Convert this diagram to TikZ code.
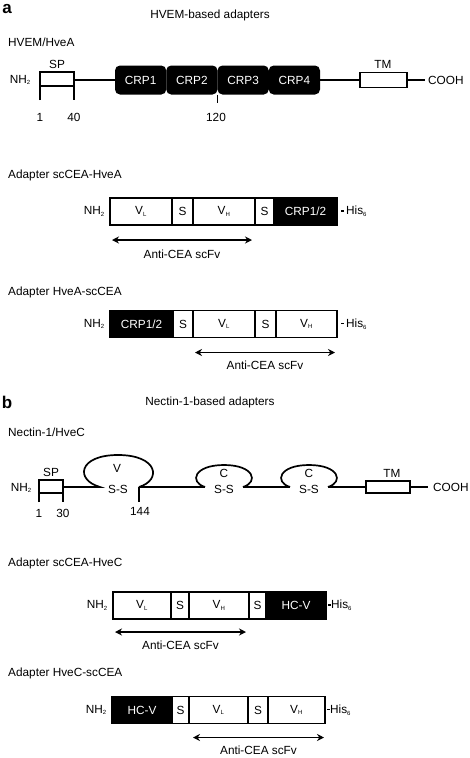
\documentclass[tikz,border=0pt]{standalone}
\usepackage{fontspec}
\setmainfont{Liberation Sans}
\usepackage{xcolor}
\usepackage{tikz}
\usetikzlibrary{arrows,arrows.meta,shapes,positioning}

\newcommand{\lowidx}[1]{\textsubscript{\fontsize{6}{6}\selectfont #1}}
\newcommand{\hisdash}{\rule[3pt]{3pt}{1.8pt}}

\begin{document}
\begin{tikzpicture}[x=1pt,y=-1pt,
      txt/.style={inner sep=0pt,font=\fontsize{11.8}{13}\selectfont},
      panel/.style={inner sep=0pt,font=\fontsize{17}{17}\selectfont\bfseries},
      seg/.style={draw,line width=1.7pt,inner sep=0pt,outer sep=0pt,
                  minimum height=27pt,anchor=west,font=\fontsize{11.8}{13}\selectfont},
      dom/.style={seg,fill=black,text=white},
      crp/.style={fill=black,text=white,rounded corners=5pt,inner sep=0pt,outer sep=0pt,
                  minimum width=51.25pt,minimum height=29pt,anchor=west,
                  font=\fontsize{11.8}{13}\selectfont},
      tmbox/.style={draw,line width=1.7pt,inner sep=0pt,outer sep=0pt,anchor=west},
      chain/.style={line width=1.7pt},
      scfv/.style={{Stealth[length=7pt,width=7pt]}-{Stealth[length=7pt,width=7pt]},line width=1.7pt}]
            \useasboundingbox (0,0) rectangle (470,758);

            % panel a: HVEM
            \node[panel] (pa) at (7,9) {a};
            \node[txt] (ta) at (210,15) {HVEM-based adapters};
            \node[txt,anchor=west] (hvea) at (8,42) {HVEM/HveA};
            \node[txt,anchor=east] (nh2a) at (31,80) {NH\lowidx{2}};
            \draw[chain] (40,100) -- (40,72) -- (74,72) -- (74,100) (40,86) -- (74,86);
            \coordinate (spa) at (74,80);
            \node[txt] (spla) at (57,64) {SP};
            \foreach \i in {1,...,4}
            \node[crp] (crp\i) at (115+51.25*\i-51.25,80) {CRP\i};
            \node[tmbox,minimum width=47pt,minimum height=15pt] (tma) at (360,80) {};
            \node[txt] (tmla) at (383,64) {TM};
            \node[txt,anchor=west] (cooha) at (428,80) {COOH};
            \draw[chain] (spa) -- (crp1.west);
            \draw[chain] (crp4.east) -- (tma.west);
            \draw[chain] (tma.east) -- ([xshift=-3pt]cooha.west);
            \draw[chain] (crp2.south east) -- ++(0,8);
            \node[txt] (n1a) at (40,117) {1};
            \node[txt] (n40) at (74,117) {40};
            \node[txt] (n120) at (216,117) {120};

            % adapter scCEA-HveA
            \node[txt,anchor=west] (ada1) at (8,175) {Adapter scCEA-HveA};
            \node[seg,minimum width=62pt] (vla) at (110,211.5) {V\lowidx{L}};
            \node[seg,minimum width=21pt,right=0pt of vla] (s1a) {S};
            \node[seg,minimum width=62pt,right=0pt of s1a] (vha) {V\lowidx{H}};
            \node[seg,minimum width=19pt,right=0pt of vha] (s2a) {S};
            \node[dom,minimum width=63pt,right=0pt of s2a] (cra) {CRP1/2};
            \node[txt,left=5pt of vla] (nha) {NH\lowidx{2}};
            \node[txt,right=4pt of cra] (hisa) {\hisdash\,His\lowidx{6}};
            \draw[scfv] ([xshift=2pt,yshift=-15pt]vla.south west)
                  -- ([xshift=-3pt,yshift=-15pt]vha.south east)
                  node[txt,midway,below=9pt] (fva) {Anti-CEA scFv};

            % adapter HveA-scCEA
            \node[txt,anchor=west] (ada2) at (8,292) {Adapter HveA-scCEA};
            \node[dom,minimum width=63pt] (crb) at (110,324) {CRP1/2};
            \node[seg,minimum width=20pt,right=0pt of crb] (s1b) {S};
            \node[seg,minimum width=62pt,right=0pt of s1b] (vlb) {V\lowidx{L}};
            \node[seg,minimum width=21pt,right=0pt of vlb] (s2b) {S};
            \node[seg,minimum width=61pt,right=0pt of s2b] (vhb) {V\lowidx{H}};
            \node[txt,left=5pt of crb] (nhb) {NH\lowidx{2}};
            \node[txt,right=4pt of vhb] (hisb) {\hisdash\,His\lowidx{6}};
            \draw[scfv] ([xshift=2pt,yshift=-15pt]vlb.south west)
                  -- ([xshift=-2pt,yshift=-15pt]vhb.south east)
                  node[txt,midway,below=8pt] (fvb) {Anti-CEA scFv};

            % panel b: nectin-1
            \node[panel] (pb) at (7,402) {b};
            \node[txt] (tb) at (210,402) {Nectin-1-based adapters};
            \node[txt,anchor=west] (hvec) at (8,432) {Nectin-1/HveC};
            \node[txt,anchor=east] (nh2c) at (32,488) {NH\lowidx{2}};
            \draw[chain] (39,502) -- (39,480) -- (63,480) -- (63,502) (39,493) -- (63,493);
            \coordinate (spc) at (63,487);
            \node[txt] (splc) at (51,472) {SP};
            \coordinate (vin) at (100,487);
            \coordinate (vout) at (139,487);
            \draw[chain] (spc) -- (vin) .. controls (75,480) and (78,455) .. (118,455)
                  .. controls (158,455) and (162,480) .. (vout);
            \node[txt] (vlab) at (117,468) {V};
            \node[txt] (vss) at (118,489) {S-S};
            \draw[chain] (vout) -- ++(0,15);
            \node[txt] (n144) at (140,511) {144};
            \foreach \cx [count=\k] in {224,309}{
              \coordinate (cl\k) at (\cx-19,487);
              \coordinate (cr\k) at (\cx+19,487);
              \draw[chain] (cl\k) .. controls (\cx-35,482) and (\cx-30,465) .. (\cx,465)
                    .. controls (\cx+30,465) and (\cx+35,482) .. (cr\k);
              \node[txt] (clab\k) at (\cx,473) {C};
              \node[txt] (css\k) at (\cx,489) {S-S};
            }
            \node[tmbox,minimum width=44pt,minimum height=12pt] (tmc) at (366,487) {};
            \node[txt] (tmlc) at (392,473) {TM};
            \node[txt,anchor=west] (coohc) at (433,487) {COOH};
            \draw[chain] (vout) -- (cl1);
            \draw[chain] (cr1) -- (cl2);
            \draw[chain] (cr2) -- (tmc.west);
            \draw[chain] (tmc.east) -- ([xshift=-5pt]coohc.west);
            \node[txt] (n1c) at (39,513) {1};
            \node[txt] (n30) at (63,513) {30};

            % adapter scCEA-HveC
            \node[txt,anchor=west] (ada3) at (8,563) {Adapter scCEA-HveC};
            \node[seg,minimum width=58pt] (vlc) at (113,605.5) {V\lowidx{L}};
            \node[seg,minimum width=18pt,right=0pt of vlc] (s1c) {S};
            \node[seg,minimum width=60pt,right=0pt of s1c] (vhc) {V\lowidx{H}};
            \node[seg,minimum width=17pt,right=0pt of vhc] (s2c) {S};
            \node[dom,minimum width=60pt,right=0pt of s2c] (hcc) {HC-V};
            \node[txt,left=5pt of vlc] (nhc) {NH\lowidx{2}};
            \node[txt,right=2pt of hcc] (hisc) {\hisdash His\lowidx{6}};
            \draw[scfv] ([xshift=2pt,yshift=-13pt]vlc.south west)
                  -- ([xshift=-3pt,yshift=-13pt]vhc.south east)
                  node[txt,midway,below=8pt] (fvc) {Anti-CEA scFv};

            % adapter HveC-scCEA
            \node[txt,anchor=west] (ada4) at (8,673) {Adapter HveC-scCEA};
            \node[dom,minimum width=60pt] (hcd) at (112,710) {HC-V};
            \node[seg,minimum width=17pt,right=0pt of hcd] (s1d) {S};
            \node[seg,minimum width=59pt,right=0pt of s1d] (vld) {V\lowidx{L}};
            \node[seg,minimum width=20pt,right=0pt of vld] (s2d) {S};
            \node[seg,minimum width=57pt,right=0pt of s2d] (vhd) {V\lowidx{H}};
            \node[txt,left=5pt of hcd] (nhd) {NH\lowidx{2}};
            \node[txt,right=2pt of vhd] (hisd) {\hisdash His\lowidx{6}};
            \draw[scfv] ([xshift=4pt,yshift=-14pt]vld.south west)
                  -- ([xshift=-1pt,yshift=-14pt]vhd.south east)
                  node[txt,midway,below=8pt] (fvd) {Anti-CEA scFv};
      \end{tikzpicture}
\end{document}
